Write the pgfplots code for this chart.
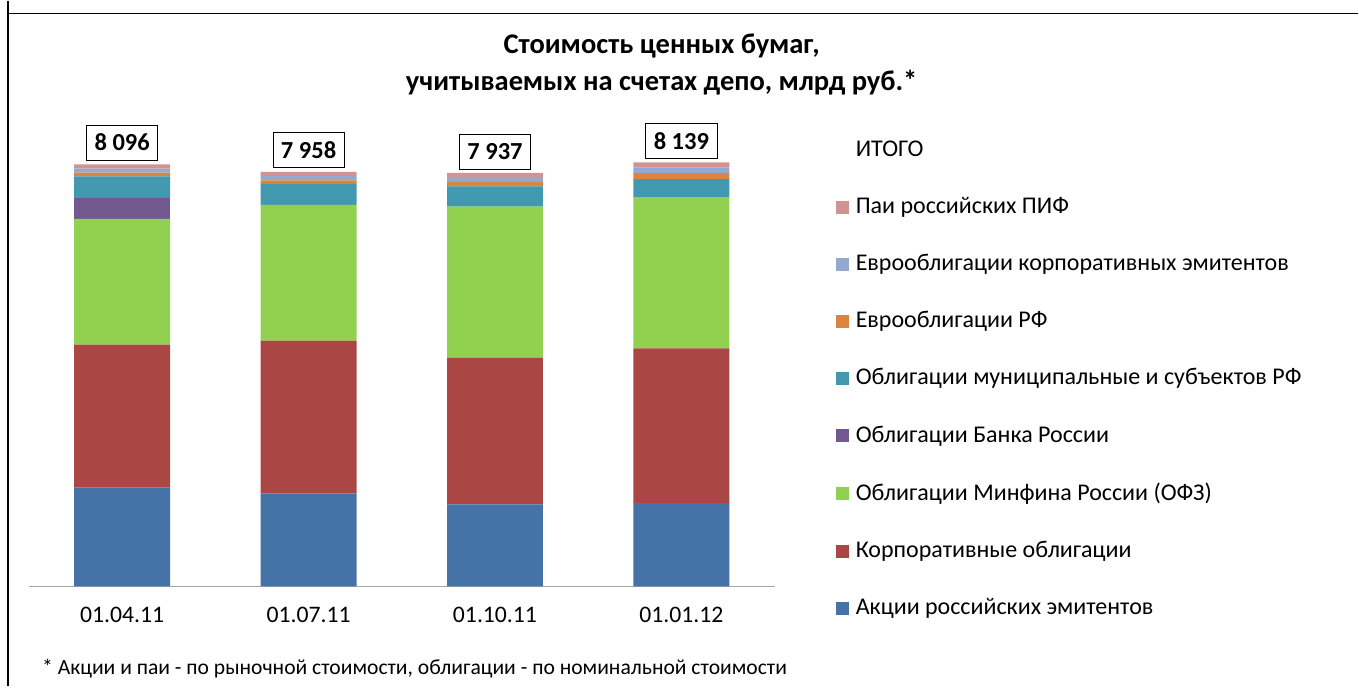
\documentclass[border=0pt]{standalone}
\usepackage{fontspec}
\setmainfont{Carlito}
\usepackage{pgfplots}
\pgfplotsset{compat=1.18}
\definecolor{cA}{HTML}{4572A7}
\definecolor{cB}{HTML}{AA4643}
\definecolor{cC}{HTML}{92D050}
\definecolor{cD}{HTML}{71588F}
\definecolor{cE}{HTML}{4198AF}
\definecolor{cF}{HTML}{DB843D}
\definecolor{cG}{HTML}{93A9CF}
\definecolor{cH}{HTML}{D19392}
\begin{document}
\fontsize{24bp}{28bp}\selectfont
\begin{tikzpicture}[x=1bp,y=1bp]
\path (0,0) rectangle (1359,686);
\draw[line width=1.5bp] (8,686) -- (8,0);
\draw[line width=1.5bp] (8,673) -- (1359,673);
\node[font=\bfseries\fontsize{28.5bp}{34bp}\selectfont, align=center] at (662,622) {Стоимость ценных бумаг,\\[3bp]учитываемых на счетах депо, млрд руб.*};
\node[anchor=west, font=\fontsize{21.6bp}{26bp}\selectfont] at (34,18) {* Акции и паи - по рыночной стоимости, облигации - по номинальной стоимости};
\begin{axis}[
  at={(29bp,100bp)}, anchor=south west,
  scale only axis, width=746bp, height=469.2bp,
  xmin=-0.5, xmax=3.5, ymin=0, ymax=9000,
  ybar stacked, bar width=96bp,
  axis y line=none, axis x line*=bottom,
  x axis line style={draw=gray!70, line width=1bp, -},
  xtick=data, xticklabels={01.04.11,01.07.11,01.10.11,01.01.12},
  major tick length=0pt,
  xticklabel style={yshift=-13bp, font=\fontsize{23.7bp}{28bp}\selectfont},
  clip=false,
  legend cell align=left,
  reverse legend,
  legend style={draw=none, fill=none, at={(axis description cs:1.0818,0.955)}, anchor=north west,
     row sep=33.3bp, column sep=5bp, inner sep=0pt, font=\fontsize{24bp}{28bp}\selectfont},
  legend image code/.code={\fill[#1,draw=none] (0bp,-6.5bp) rectangle (13bp,6.5bp);},
  every axis plot/.append style={draw=none},
]
\addplot[fill=cA] coordinates {(0,1899) (1,1784) (2,1573) (3,1597)};
\addlegendentry{Акции российских эмитентов}
\addplot[fill=cB] coordinates {(0,2743) (1,2935) (2,2820) (3,2973)};
\addlegendentry{Корпоративные облигации}
\addplot[fill=cC] coordinates {(0,2411) (1,2603) (2,2897) (3,2903)};
\addlegendentry{Облигации Минфина России (ОФЗ)}
\addplot[fill=cD] coordinates {(0,403) (1,0) (2,0) (3,0)};
\addlegendentry{Облигации Банка России}
\addplot[fill=cE] coordinates {(0,414) (1,403) (2,390) (3,345)};
\addlegendentry{Облигации муниципальные и субъектов РФ}
\addplot[fill=cF] coordinates {(0,71) (1,69) (2,77) (3,115)};
\addlegendentry{Еврооблигации РФ}
\addplot[fill=cG] coordinates {(0,77) (1,84) (2,84) (3,104)};
\addlegendentry{Еврооблигации корпоративных эмитентов}
\addplot[fill=cH, point meta=explicit symbolic,
  nodes near coords,
  every node near coord/.style={anchor=south, yshift=6bp, draw=black, line width=0.8bp, fill=white,
     font=\bfseries\fontsize{24.5bp}{28bp}\selectfont, inner xsep=8bp, minimum height=35bp, text=black}]
  coordinates {(0,83)[8 096] (1,77)[7 958] (2,96)[7 937] (3,102)[8 139]};
\addlegendentry{Паи российских ПИФ}
\addlegendimage{empty legend}
\addlegendentry{ИТОГО}
\end{axis}
\end{tikzpicture}
\end{document}
